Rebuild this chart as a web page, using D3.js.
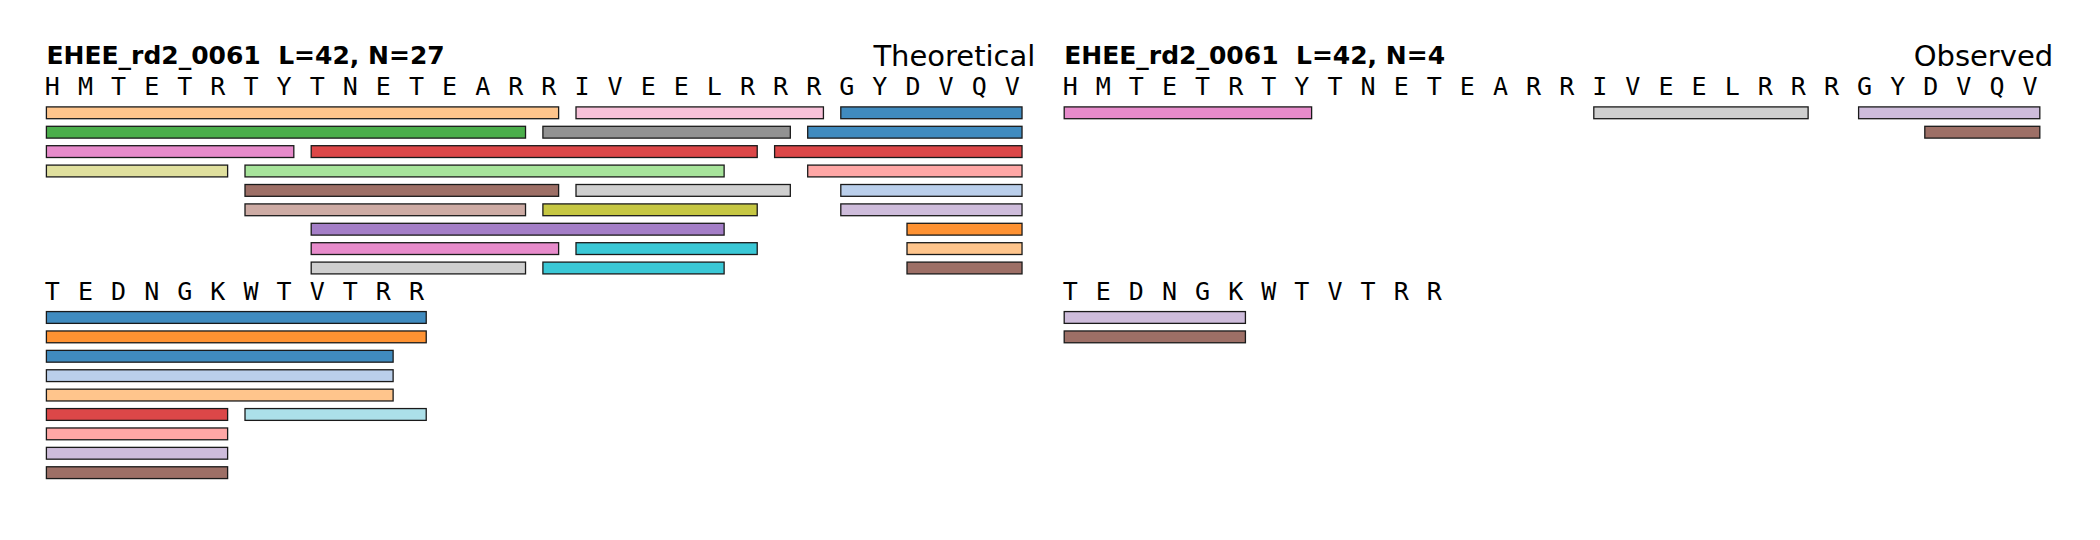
<!DOCTYPE html>
<html>
<head>
<meta charset="utf-8">
<script src="https://cdn.jsdelivr.net/npm/d3@7"></script>
<style>
  html, body { margin: 0; padding: 0; background: #fff; }
  svg { display: block; }
</style>
</head>
<body>
<svg id="chart" width="2100" height="540"></svg>
<script>
// ---------------- DATA ----------------
const proteinName = "EHEE_rd2_0061";
const sequence = "HMTETRTYTNETEARRIVEELRRRGYDVQVTEDNGKWTVTRR";
const residuesPerLine = 30;
const panelTitles = ["Theoretical", "Observed"];
const panelCounts = [27, 4];

// segments: [line, row, startResidue, endResidue, color]
const theoreticalSegments = [
  [0, 0, 0, 15, "#ffbb78"], [0, 0, 16, 23, "#f7b6d2"], [0, 0, 24, 29, "#1f77b4"],
  [0, 1, 0, 14, "#2ca02c"], [0, 1, 15, 22, "#7f7f7f"], [0, 1, 23, 29, "#1f77b4"],
  [0, 2, 0, 7, "#e377c2"],  [0, 2, 8, 21, "#d62728"],  [0, 2, 22, 29, "#d62728"],
  [0, 3, 0, 5, "#dbdb8d"],  [0, 3, 6, 20, "#98df8a"],  [0, 3, 23, 29, "#ff9896"],
  [0, 4, 6, 15, "#8c564b"], [0, 4, 16, 22, "#c7c7c7"], [0, 4, 24, 29, "#aec7e8"],
  [0, 5, 6, 14, "#c49c94"], [0, 5, 15, 21, "#bcbd22"], [0, 5, 24, 29, "#c5b0d5"],
  [0, 6, 8, 20, "#9467bd"], [0, 6, 26, 29, "#ff7f0e"],
  [0, 7, 8, 15, "#e377c2"], [0, 7, 16, 21, "#17becf"], [0, 7, 26, 29, "#ffbb78"],
  [0, 8, 8, 14, "#c7c7c7"], [0, 8, 15, 20, "#17becf"], [0, 8, 26, 29, "#8c564b"],
  [1, 0, 30, 41, "#1f77b4"],
  [1, 1, 30, 41, "#ff7f0e"],
  [1, 2, 30, 40, "#1f77b4"],
  [1, 3, 30, 40, "#aec7e8"],
  [1, 4, 30, 40, "#ffbb78"],
  [1, 5, 30, 35, "#d62728"], [1, 5, 36, 41, "#9edae5"],
  [1, 6, 30, 35, "#ff9896"],
  [1, 7, 30, 35, "#c5b0d5"],
  [1, 8, 30, 35, "#8c564b"]
];
const observedSegments = [
  [0, 0, 0, 7, "#e377c2"], [0, 0, 16, 22, "#c7c7c7"], [0, 0, 24, 29, "#c5b0d5"],
  [0, 1, 26, 29, "#8c564b"],
  [1, 0, 30, 35, "#c5b0d5"],
  [1, 1, 30, 35, "#8c564b"]
];

// ---------------- LAYOUT ----------------
const svg = d3.select("#chart");
const panelLeft = [46.4, 1064.2];
const residueWidth = 33.1;
const rowStep = 19.4;
const firstRowTop = 106.3;
const rowsPerBlock = 10.55;
const barHeight = 11.8;
const barEndFrac = 0.475;

const y = d3.scaleLinear().domain([0, 1]).range([firstRowTop, firstRowTop + rowStep]);
const rowTop = (line, row) => y(line * rowsPerBlock + row);

function drawPanel(p, segments) {
  const x = d3.scaleLinear().domain([0, residuesPerLine])
    .range([panelLeft[p], panelLeft[p] + residuesPerLine * residueWidth]);
  const g = svg.append("g");

  // title
  g.append("text")
    .attr("x", panelLeft[p]).attr("y", 64)
    .attr("font-family", "DejaVu Sans").attr("font-weight", "bold")
    .attr("font-size", 25).attr("fill", "#000")
    .text(`${proteinName}\u00a0\u00a0L=${sequence.length}, N=${panelCounts[p]}`);
  g.append("text")
    .attr("x", x(residuesPerLine) - 4).attr("y", 66)
    .attr("text-anchor", "end")
    .attr("font-family", "DejaVu Sans")
    .attr("font-size", 29).attr("fill", "#000")
    .text(panelTitles[p]);

  // sequence letters
  const letters = sequence.split("").map((c, i) => ({c, line: Math.floor(i / residuesPerLine), pos: i % residuesPerLine}));
  g.selectAll("text.res").data(letters).join("text")
    .attr("class", "res")
    .attr("x", d => x(d.pos) + 6)
    .attr("y", d => rowTop(d.line, 0) - 11)
    .attr("text-anchor", "middle")
    .attr("font-family", "DejaVu Sans Mono")
    .attr("font-size", 25).attr("fill", "#000")
    .text(d => d.c);

  // bars
  g.selectAll("rect.pep").data(segments).join("rect")
    .attr("class", "pep")
    .attr("x", d => x(d[2] - d[0] * residuesPerLine))
    .attr("width", d => x(d[3] - d[0] * residuesPerLine + barEndFrac) - x(d[2] - d[0] * residuesPerLine))
    .attr("y", d => rowTop(d[0], d[1]) + 0.6)
    .attr("height", barHeight)
    .attr("fill", d => d[4]).attr("fill-opacity", 0.85)
    .attr("stroke", "#1a1a1a").attr("stroke-width", 1.3);
}

drawPanel(0, theoreticalSegments);
drawPanel(1, observedSegments);
</script>
</body>
</html>
